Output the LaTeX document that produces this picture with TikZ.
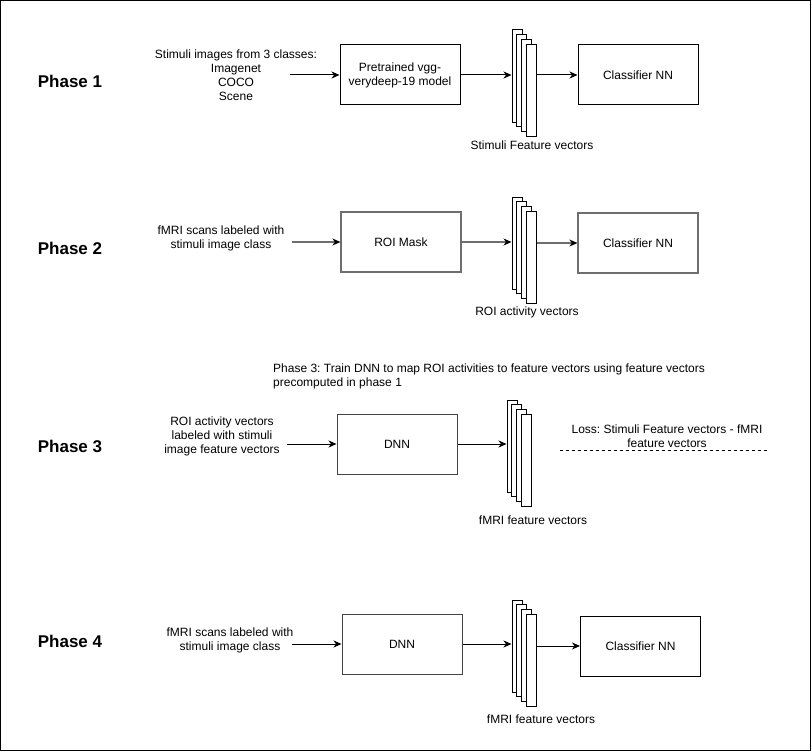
\documentclass[tikz,border=0pt]{standalone}
\usepackage{fontspec}
\setmainfont{Liberation Sans}
\usetikzlibrary{arrows.meta}
\definecolor{phgray}{HTML}{6E6E6E}
\definecolor{dnngray}{HTML}{444444}
\newcommand\vstack[3]{%
  \foreach \i/\n in {0/a,1/b,2/c,3/d}
    \node[vec] (#1\n) at ({#2+5+4.7*\i},{#3+46+4.7*\i}) {};}
\frenchspacing
\begin{document}
\begin{tikzpicture}[x=1pt,y=-1pt,
  txt/.style={font=\fontsize{12}{14}\selectfont, align=center, inner sep=0pt},
  ph/.style={font=\fontsize{17}{20}\selectfont\bfseries, inner sep=0pt},
  box/.style={draw, line width=1pt, minimum width=120pt, minimum height=60pt, inner sep=0pt,
    align=center, font=\fontsize{12}{14}\selectfont},
  vec/.style={draw, fill=white, line width=1pt, minimum width=10pt, minimum height=92pt, inner sep=0pt},
  arr/.style={line width=1pt, -{Stealth[length=8pt,width=7pt,inset=2.5pt]}},
  garr/.style={line width=1.2pt, phgray, -{Stealth[length=8pt,width=7pt,inset=2.5pt,black]}}]
\useasboundingbox (0,0) rectangle (812,752);
\draw[line width=1pt] (0.5,0.5) rectangle (810.5,750.5);

% Phase 1
\node[ph] (p1) at (70,81) {Phase 1};
\node[txt] (t1) at (236,75.5) {Stimuli images from 3 classes:\\Imagenet\\COCO\\Scene};
\coordinate (a1) at (290,75);
\node[box] (b1) at (400,75) {Pretrained vgg-\\verydeep-19 model};
\vstack{s1}{512}{30}
\node[box] (c1) at (638,75) {Classifier NN};
\node[txt] (l1) at (532,145) {Stimuli Feature vectors};
\draw[arr] (a1) -- (b1.west);
\draw[arr] (b1.east) -- (b1.east -| s1a.west);
\draw[arr] (s1d.east |- c1.west) -- (c1.west);

% Phase 2
\node[ph] (p2) at (70,248) {Phase 2};
\node[txt] (t2) at (221,238) {fMRI scans labeled with\\stimuli image class};
\coordinate (a2) at (292,242);
\node[box, draw=phgray, line width=1.2pt] (b2) at (401,242) {ROI Mask};
\vstack{s2}{512}{197}
\node[box, draw=phgray, line width=1.2pt] (c2) at (638,243) {Classifier NN};
\node[txt] (l2) at (527,312) {ROI activity vectors};
\draw[garr] (a2) -- (b2.west);
\draw[garr] (b2.east) -- (b2.east -| s2a.west);
\draw[garr] (s2d.east |- c2.west) -- (c2.west);

% Phase 3
\node[ph] (p3) at (70,446) {Phase 3};
\node[txt, align=left, anchor=west] (h3) at (273,376.5) {Phase 3: Train DNN to map ROI activities to feature vectors using feature vectors\\precomputed in phase 1};
\node[txt] (t3) at (222,436) {ROI activity vectors\\labeled with stimuli\\image feature vectors};
\coordinate (a3) at (287,444);
\node[box, draw=dnngray] (b3) at (397,444) {DNN};
\vstack{s3}{507}{400}
\node[txt] (l3) at (533,520) {fMRI feature vectors};
\draw[arr] (a3) -- (b3.west);
\draw[arr] (b3.east) -- (b3.east -| s3a.west);
\node[txt] (loss) at (667,436) {Loss: Stimuli Feature vectors - fMRI\\feature vectors};
\coordinate (d1) at (560,450);
\coordinate (d2) at (768,450);
\draw[line width=1pt, dash pattern=on 3pt off 3pt] (d1) -- (d2);

% Phase 4
\node[ph] (p4) at (70,641) {Phase 4};
\node[txt] (t4) at (230,640.5) {fMRI scans labeled with\\stimuli image class};
\coordinate (a4) at (292,644);
\node[box, draw=dnngray] (b4) at (402,644) {DNN};
\vstack{s4}{512}{600}
\node[box] (c4) at (640.5,646) {Classifier NN};
\node[txt] (l4) at (541,719) {fMRI feature vectors};
\draw[arr] (a4) -- (b4.west);
\draw[arr] (b4.east) -- (b4.east -| s4a.west);
\draw[arr] (s4d.east |- c4.west) -- (c4.west);
\end{tikzpicture}
\end{document}
